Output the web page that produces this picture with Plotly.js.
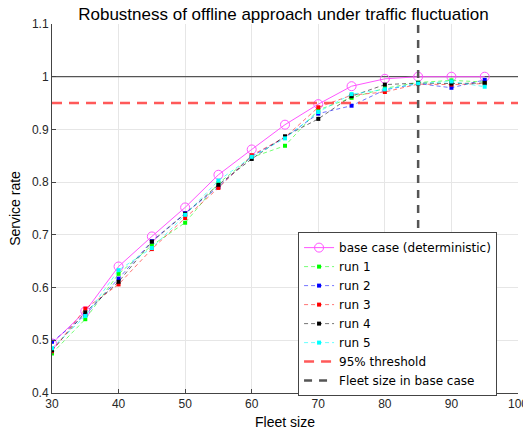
<!DOCTYPE html>
<html>
<head>
<meta charset="utf-8">
<script src="https://cdn.plot.ly/plotly-3.0.1.min.js"></script>
<style>html,body{margin:0;padding:0;background:#fff;}#chart{width:523px;height:432px;}</style>
</head>
<body>
<div id="chart"></div>
<script>
const fleet = [30, 35, 40, 45, 50, 55, 60, 65, 70, 75, 80, 85, 90, 95];
const baseCase = [0.494, 0.555, 0.640, 0.697, 0.752, 0.814, 0.862, 0.909, 0.948, 0.982, 0.996, 1.0, 1.0, 1.0];
const run1 = [0.475, 0.540, 0.626, 0.680, 0.723, 0.798, 0.847, 0.869, 0.937, 0.960, 0.978, 0.989, 0.993, 0.990];
const run2 = [0.497, 0.548, 0.617, 0.688, 0.741, 0.791, 0.849, 0.885, 0.930, 0.945, 0.975, 0.987, 0.979, 0.994];
const run3 = [0.479, 0.560, 0.606, 0.673, 0.732, 0.789, 0.851, 0.885, 0.942, 0.965, 0.971, 0.986, 0.985, 0.987];
const run4 = [0.481, 0.553, 0.611, 0.687, 0.740, 0.795, 0.844, 0.887, 0.920, 0.963, 0.985, 0.988, 0.987, 0.988];
const run5 = [0.485, 0.546, 0.633, 0.675, 0.738, 0.803, 0.848, 0.883, 0.933, 0.967, 0.976, 0.987, 0.991, 0.981];
const threshold = 0.95;
const baseFleetSize = 85;
const xRange = [30, 100];
const yRange = [0.4, 1.1];
const xTicks = [30, 40, 50, 60, 70, 80, 90, 100];
const yTicks = [0.4, 0.5, 0.6, 0.7, 0.8, 0.9, 1, 1.1];
const yTickText = ['0.4', '0.5', '0.6', '0.7', '0.8', '0.9', '1', '1.1'];

const runs = [
  {name: 'run 1', y: run1, color: 'rgba(0,255,0,0.55)', mcolor: '#00ff00'},
  {name: 'run 2', y: run2, color: 'rgba(0,0,255,0.55)', mcolor: '#0000ff'},
  {name: 'run 3', y: run3, color: 'rgba(255,0,0,0.55)', mcolor: '#ff0000'},
  {name: 'run 4', y: run4, color: 'rgba(0,0,0,0.55)', mcolor: '#000000'},
  {name: 'run 5', y: run5, color: 'rgba(0,255,255,0.6)', mcolor: '#00ffff'}
];

const traces = [];
traces.push({x: xRange, y: [1, 1], mode: 'lines', line: {color: '#555555', width: 1.2}, showlegend: false, hoverinfo: 'skip'});
traces.push({x: fleet, y: baseCase, name: 'base case (deterministic)', mode: 'lines+markers',
  line: {color: '#ff55ff', width: 1}, marker: {symbol: 'circle-open', size: 9, color: '#ff55ff', line: {width: 1}}});
runs.forEach(r => traces.push({x: fleet, y: r.y, name: r.name, mode: 'lines+markers',
  line: {color: r.color, width: 1, dash: '4px,3px'}, marker: {symbol: 'square', size: 4, color: r.mcolor}}));
traces.push({x: xRange, y: [threshold, threshold], name: '95% threshold', mode: 'lines',
  line: {color: 'rgba(255,60,60,0.85)', width: 2.5, dash: '10px,7px'}});
traces.push({x: [baseFleetSize, baseFleetSize], y: yRange, name: 'Fleet size in base case', mode: 'lines',
  line: {color: '#555555', width: 2.5, dash: '8px,7px'}});

const font = 'Liberation Sans, Arial, Helvetica, sans-serif';
const layout = {
  width: 523, height: 432,
  margin: {l: 52, r: 5, t: 24, b: 39},
  paper_bgcolor: '#ffffff', plot_bgcolor: '#ffffff',
  font: {family: font, size: 12, color: '#262626'},
  title: {text: 'Robustness of offline approach under traffic fluctuation', font: {family: font, size: 17, color: '#000'},
    x: 0.542, xanchor: 'center', yref: 'container', y: 0.968, yanchor: 'middle'},
  xaxis: {range: xRange, tickvals: xTicks, ticks: 'inside', ticklen: 4, tickcolor: '#444', showline: true, linecolor: '#444', linewidth: 1,
    showgrid: true, gridcolor: '#e6e6e6', zeroline: false, tickfont: {size: 12, color: '#262626'}, ticklabeloverflow: 'allow',
    title: {text: 'Fleet size', font: {size: 14, color: '#000'}, standoff: 6}},
  yaxis: {range: yRange, tickvals: yTicks, ticktext: yTickText, ticks: 'inside', ticklen: 4, tickcolor: '#444', showline: true, linecolor: '#444', linewidth: 1,
    showgrid: true, gridcolor: '#e6e6e6', zeroline: false, tickfont: {size: 12, color: '#262626'},
    title: {text: 'Service rate', font: {size: 14, color: '#000'}, standoff: 8}},
  showlegend: true,
  legend: {x: 0.528, y: 0.436, xanchor: 'left', yanchor: 'top', bgcolor: '#ffffff', bordercolor: '#444', borderwidth: 1,
    font: {family: 'DejaVu Sans, sans-serif', size: 12, color: '#000'}, tracegroupgap: 0, itemwidth: 30}
};
Plotly.newPlot('chart', traces, layout, {displayModeBar: false, staticPlot: true});
</script>
</body>
</html>
